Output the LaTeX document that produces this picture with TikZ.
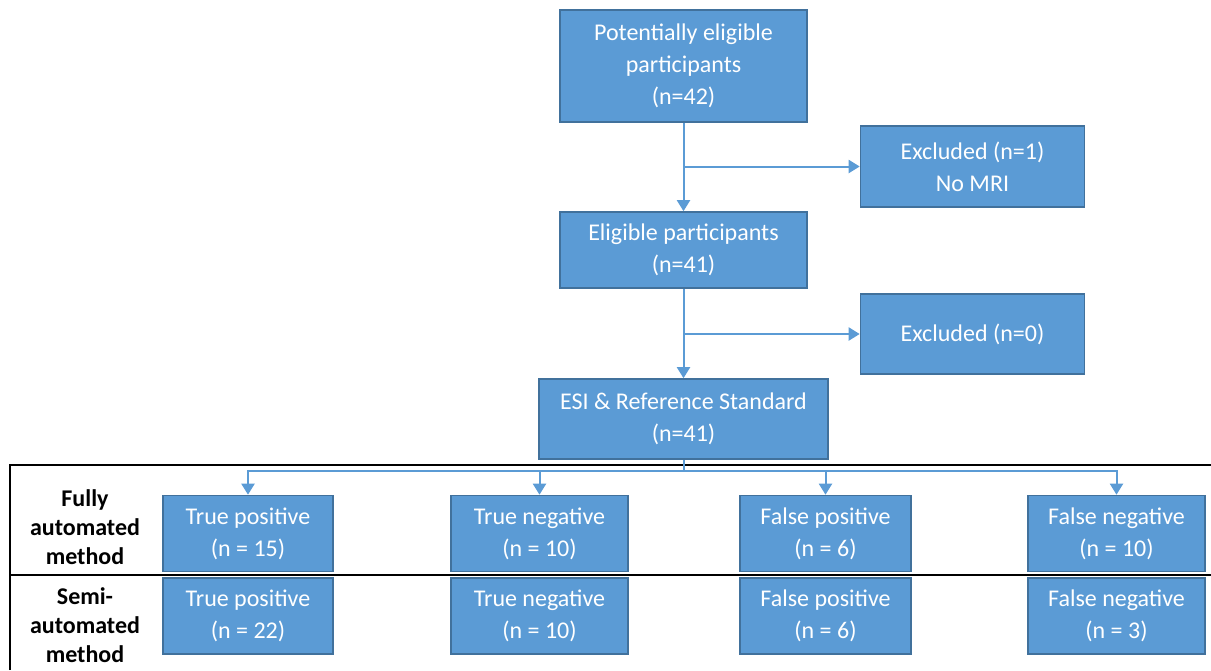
\documentclass[tikz,border=0pt]{standalone}
\usepackage{fontspec}
\setmainfont{Carlito}
\usetikzlibrary{arrows.meta}
\definecolor{officeblue}{RGB}{91, 155, 213}
\definecolor{officeedge}{RGB}{65, 113, 156}

\tikzset{
    flowbox/.style={draw=officeedge, fill=officeblue, line width=0.8pt, text=white,
                    align=center, inner sep=0pt, font=\fontsize{12}{16}\selectfont},
    flowline/.style={officeblue, line width=1pt},
    flowarrow/.style={flowline, -{Triangle[width=6.5pt, length=5.5pt]}},
    rowlabel/.style={align=center, font=\fontsize{12}{14.5}\selectfont\bfseries},
}

\begin{document}
\begin{tikzpicture}[x=0.5pt, y=-0.5pt]
            % Frame to ensure alignment:
            \useasboundingbox (0, 0) rectangle (1211, 670);
            % Main flow
            \node[flowbox, minimum width=123.5pt, minimum height=56pt]   (pot)    at ( 683.5,  66.0) {Potentially eligible\\participants\\(n=42)};
            \node[flowbox, minimum width=112pt,   minimum height=40.5pt] (exone)  at ( 972.5, 166.5) {Excluded (n=1)\\No MRI};
            \node[flowbox, minimum width=123.5pt, minimum height=38pt]   (elig)   at ( 683.5, 250.0) {Eligible participants\\(n=41)};
            \node[flowbox, minimum width=112pt,   minimum height=40pt]   (exzero) at ( 972.5, 334.0) {Excluded (n=0)};
            \node[flowbox, minimum width=144.5pt, minimum height=40pt]   (esi)    at ( 683.5, 419.0) {ESI \& Reference Standard\\(n=41)};
            % Fully automated row
            \node[flowbox, minimum width=85pt,   minimum height=38pt] (fatp) at ( 248.0, 533.5) {True positive\\(n = 15)};
            \node[flowbox, minimum width=88.5pt, minimum height=38pt] (fatn) at ( 539.5, 533.5) {True negative\\(n = 10)};
            \node[flowbox, minimum width=85.5pt, minimum height=38pt] (fafp) at ( 825.5, 533.5) {False positive\\(n = 6)};
            \node[flowbox, minimum width=88.5pt, minimum height=38pt] (fafn) at (1116.5, 533.5) {False negative\\(n = 10)};
            % Semi-automated row
            \node[flowbox, minimum width=85pt,   minimum height=38pt] (satp) at ( 248.0, 616.0) {True positive\\(n = 22)};
            \node[flowbox, minimum width=88.5pt, minimum height=38pt] (satn) at ( 539.5, 616.0) {True negative\\(n = 10)};
            \node[flowbox, minimum width=85.5pt, minimum height=38pt] (safp) at ( 825.5, 616.0) {False positive\\(n = 6)};
            \node[flowbox, minimum width=88.5pt, minimum height=38pt] (safn) at (1116.5, 616.0) {False negative\\(n = 3)};
            % Row labels
            \node[rowlabel] (fullylab) at (85, 527) {Fully\\automated\\method};
            \node[rowlabel] (semilab)  at (85, 625) {Semi-\\automated\\method};
            % Table lines
            \draw[line width=1pt] (10, 670) -- (10, 465) -- (1211, 465);
            \draw[line width=1pt] (10, 575) -- (1211, 575);
            % Connectors
            \draw[flowarrow] (pot.south)  -- (elig.north);
            \draw[flowarrow] (pot.south |- exone.west) -- (exone.west);
            \draw[flowarrow] (elig.south) -- (esi.north);
            \draw[flowarrow] (elig.south |- exzero.west) -- (exzero.west);
            \coordinate (split) at (683.5, 471);
            \draw[flowline]  (esi.south) -- (split);
            \draw[flowarrow] (split) -| (fatp.north);
            \draw[flowarrow] (split) -| (fatn.north);
            \draw[flowarrow] (split) -| (fafp.north);
            \draw[flowarrow] (split) -| (fafn.north);
\end{tikzpicture}
\end{document}
